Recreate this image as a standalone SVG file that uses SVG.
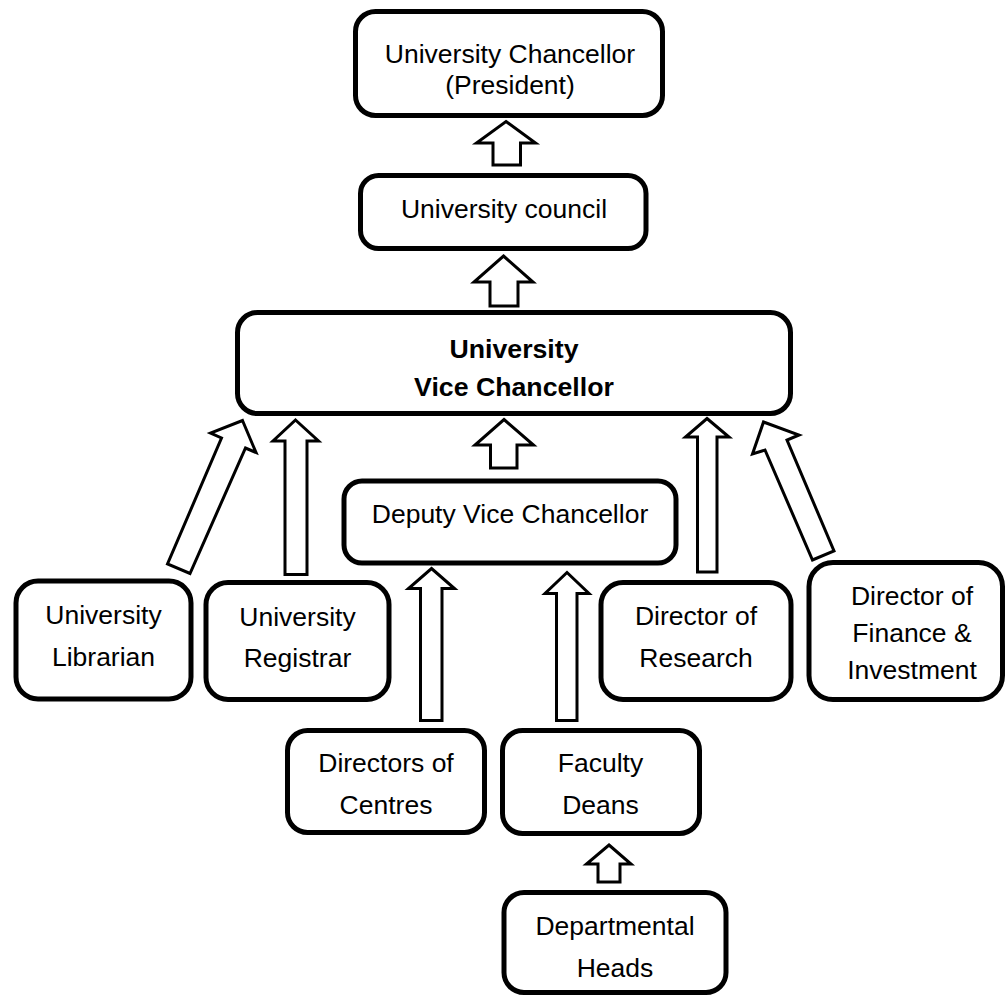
<svg xmlns="http://www.w3.org/2000/svg" width="1007" height="997" viewBox="0 0 1007 997">
  <style>
    .box { fill: #ffffff; stroke: #000000; stroke-width: 5; }
    .arrow { fill: #ffffff; stroke: #000000; stroke-width: 3; stroke-linejoin: miter; }
    .label { font-family: "Liberation Sans", Arial, sans-serif; font-size: 26.5px; fill: #000000; text-anchor: middle; }
    .bold { font-weight: bold; font-size: 26.7px; }
  </style>
  <rect width="1007" height="997" fill="#ffffff"/>

  <!-- reporting arrows (block arrows pointing to the superior office) -->
  <g id="connectors">
    <polygon class="arrow" points="506,121.5 535.5,143 520.5,143 520.5,165 493,165 493,143 476.5,143"/>
    <polygon class="arrow" points="503.5,256 533,282 518,282 518,306 490,306 490,282 474,282"/>
    <polygon class="arrow" points="504,419.5 533.5,445 517,445 517,468 490.5,468 490.5,445 475,445"/>
    <polygon class="arrow" points="242.5,420.5 256,452.5 245.5,448 190,573.5 167.5,564 221.5,438 210.5,433"/>
    <polygon class="arrow" points="295.5,420 318.5,441 307,441 307,574.5 285,574.5 285,441 273,441"/>
    <polygon class="arrow" points="431.5,568.5 454.5,588.5 442,588.5 442,720.5 420.5,720.5 420.5,588.5 408.5,588.5"/>
    <polygon class="arrow" points="567,572.5 589,593.5 577,593.5 577,720.5 556.5,720.5 556.5,593.5 545,593.5"/>
    <polygon class="arrow" points="707,418.5 729,437 717,437 717,572 697.5,572 697.5,437 685.5,437"/>
    <polygon class="arrow" points="763.5,422 799,435 787,440 834,551 812.5,560 765,450 752.5,454"/>
    <polygon class="arrow" points="609,845 631,864 620,864 620,882 598,882 598,864 586.5,864"/>
  </g>

  <g id="chancellor">
    <rect class="box" x="355.5" y="11.5" width="307" height="104" rx="20"/>
    <text class="label" x="510" y="63">University Chancellor</text>
    <text class="label" x="510" y="94">(President)</text>
  </g>

  <g id="council">
    <rect class="box" x="360.5" y="175.5" width="285.5" height="73" rx="18"/>
    <text class="label" x="504" y="218">University council</text>
  </g>

  <g id="vice-chancellor">
    <rect class="box" x="237.5" y="312.5" width="553" height="101" rx="20"/>
    <text class="label bold" x="514" y="358">University</text>
    <text class="label bold" x="514" y="396">Vice Chancellor</text>
  </g>

  <g id="deputy-vice-chancellor">
    <rect class="box" x="344" y="481" width="332" height="82" rx="18"/>
    <text class="label" x="510" y="522.5">Deputy Vice Chancellor</text>
  </g>

  <g id="librarian">
    <rect class="box" x="16" y="581" width="175" height="118" rx="22"/>
    <text class="label" x="103.5" y="624">University</text>
    <text class="label" x="103.5" y="666">Librarian</text>
  </g>

  <g id="registrar">
    <rect class="box" x="206" y="582.5" width="183" height="117" rx="22"/>
    <text class="label" x="297.5" y="625.5">University</text>
    <text class="label" x="297.5" y="666.5">Registrar</text>
  </g>

  <g id="research">
    <rect class="box" x="601" y="582.5" width="190" height="117" rx="22"/>
    <text class="label" x="696" y="625">Director of</text>
    <text class="label" x="696" y="666.5">Research</text>
  </g>

  <g id="finance">
    <rect class="box" x="809" y="562.5" width="193.5" height="137" rx="24"/>
    <text class="label" x="912" y="605">Director of</text>
    <text class="label" x="912" y="641.5">Finance &amp;</text>
    <text class="label" x="912" y="678.5">Investment</text>
  </g>

  <g id="centres">
    <rect class="box" x="287.5" y="730.5" width="197" height="102" rx="20"/>
    <text class="label" x="386" y="771.5">Directors of</text>
    <text class="label" x="386" y="813.5">Centres</text>
  </g>

  <g id="deans">
    <rect class="box" x="502.5" y="730.5" width="197" height="103" rx="20"/>
    <text class="label" x="600.5" y="771.5">Faculty</text>
    <text class="label" x="600.5" y="813.5">Deans</text>
  </g>

  <g id="departmental-heads">
    <rect class="box" x="504" y="892.5" width="222" height="100" rx="20"/>
    <text class="label" x="615" y="935">Departmental</text>
    <text class="label" x="615" y="976.5">Heads</text>
  </g>
</svg>
